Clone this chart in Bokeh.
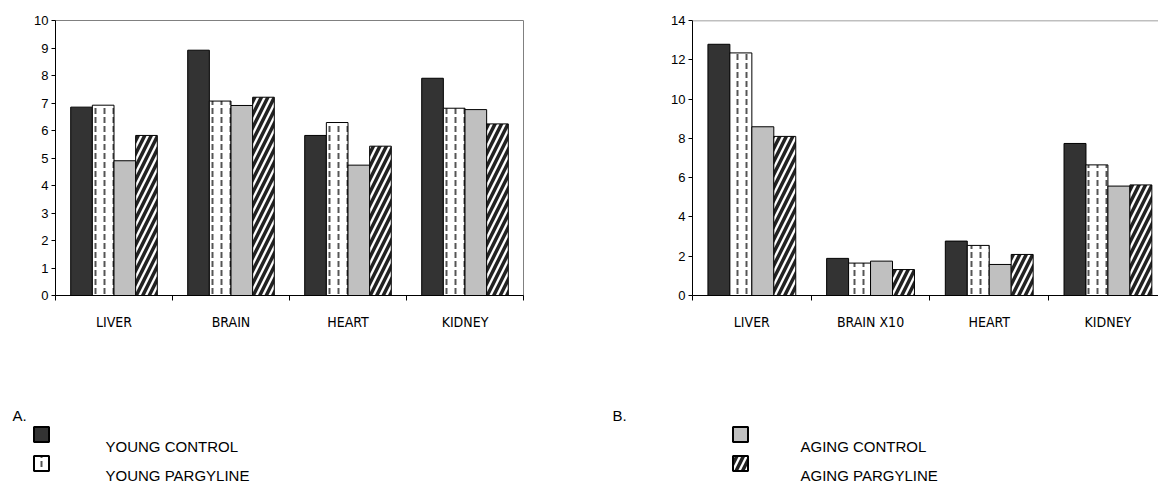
from bokeh.plotting import figure
from bokeh.models import Range1d, FixedTicker, Span, ColumnDataSource
from bokeh.layouts import column, row
from bokeh.embed import file_html
from bokeh.resources import INLINE
from bokeh.core.properties import value
import numpy as np

# ---------------- data ----------------
cats_a = ["LIVER", "BRAIN", "HEART", "KIDNEY"]
cats_b = ["LIVER", "BRAIN X10", "HEART", "KIDNEY"]
series = ["YOUNG CONTROL", "YOUNG PARGYLINE", "AGING CONTROL", "AGING PARGYLINE"]

a_young_control = [6.85, 8.92, 5.82, 7.90]
a_young_pargyline = [6.92, 7.07, 6.29, 6.81]
a_aging_control = [4.90, 6.91, 4.74, 6.76]
a_aging_pargyline = [5.82, 7.21, 5.43, 6.24]

b_young_control = [12.79, 1.89, 2.77, 7.74]
b_young_pargyline = [12.35, 1.65, 2.55, 6.65]
b_aging_control = [8.59, 1.75, 1.58, 5.57]
b_aging_pargyline = [8.10, 1.32, 2.09, 5.63]

yticks_a = list(range(0, 11, 1))
yticks_b = list(range(0, 15, 2))

legend_a = ["YOUNG CONTROL", "YOUNG PARGYLINE"]
legend_b = ["AGING CONTROL", "AGING PARGYLINE"]

# ---------------- styles ----------------
FONT = "Liberation Sans"
NARROW = "Liberation Sans Narrow, DejaVu Sans Condensed, Liberation Sans"
styles = {
    "YOUNG CONTROL": dict(fill_color="#333333", hatch_pattern=None),
    "YOUNG PARGYLINE": dict(fill_color="white", hatch_pattern="vertical_dash",
                            hatch_color="#555555", hatch_scale=9, hatch_weight=2),
    "AGING CONTROL": dict(fill_color="#c0c0c0", hatch_pattern=None),
    "AGING PARGYLINE": dict(fill_color="white", hatch_pattern="right_diagonal_line",
                            hatch_color="#222222", hatch_scale=13, hatch_weight=3.5),
}

def style_kw(name):
    s = dict(styles[name])
    if s.get("hatch_pattern") is None:
        s.pop("hatch_pattern")
    return s

BAR_W = 0.185
offsets = [-1.5 * BAR_W, -0.5 * BAR_W, 0.5 * BAR_W, 1.5 * BAR_W]


def make_chart(cats, vals, yticks, ymax, xend, width, height, bl, bt, br, outline):
    p = figure(width=width, height=height, output_backend="svg", toolbar_location=None,
               x_range=Range1d(0, xend), y_range=Range1d(0, ymax),
               min_border_left=bl, min_border_top=bt, min_border_right=br,
               min_border_bottom=40)
    p.xgrid.visible = False
    p.ygrid.visible = False
    p.background_fill_color = "white"
    p.border_fill_color = "white"
    if outline:
        p.outline_line_color = "#808080"
        p.outline_line_width = 1
    else:
        p.outline_line_color = None
        p.add_layout(Span(location=ymax, dimension="width", line_color="#808080", line_width=1.5))

    centers = np.arange(len(cats)) + 0.5
    for name, off, v in zip(series, offsets, vals):
        src = ColumnDataSource(dict(x=centers + off, top=v))
        p.vbar(x="x", top="top", bottom=0, width=BAR_W, source=src,
               line_color="black", line_width=1, **style_kw(name))

    xt = FixedTicker(ticks=list(centers), minor_ticks=list(range(len(cats) + 1)))
    p.xaxis.ticker = xt
    p.xaxis.major_label_overrides = {float(c): lab for c, lab in zip(centers, cats)}
    p.xaxis.major_tick_line_color = None
    p.xaxis.minor_tick_line_color = "black"
    p.xaxis.minor_tick_in = 0
    p.xaxis.minor_tick_out = 5
    p.xaxis.axis_line_color = "black"
    p.xaxis.major_label_standoff = 12
    p.xaxis.major_label_text_font = NARROW
    p.xaxis.major_label_text_font_size = "14px"
    p.xaxis.major_label_text_color = "black"

    p.yaxis.ticker = FixedTicker(ticks=yticks)
    p.yaxis.major_tick_in = 0
    p.yaxis.major_tick_out = 4
    p.yaxis.minor_tick_line_color = None
    p.yaxis.axis_line_color = "black"
    p.yaxis.major_tick_line_color = "black"
    p.yaxis.major_label_standoff = 3
    p.yaxis.major_label_text_font = FONT
    p.yaxis.major_label_text_font_size = "13px"
    p.yaxis.major_label_text_color = "black"
    return p


p1 = make_chart(cats_a, [a_young_control, a_young_pargyline, a_aging_control, a_aging_pargyline],
                yticks_a, 10, 4, 642, 335, 55, 20, 119, True)
p2 = make_chart(cats_b, [b_young_control, b_young_pargyline, b_aging_control, b_aging_pargyline],
                yticks_b, 14, 3.926, 516, 335, 50, 18, 0, False)

# ---------------- legend area ----------------
LW, LH = 1158, 155
pl = figure(width=LW, height=LH, output_backend="svg", toolbar_location=None,
            x_range=Range1d(0, LW), y_range=Range1d(LH, 0),
            min_border=0, outline_line_color=None)
pl.axis.visible = False
pl.grid.visible = False

pl.text(x=[12, 612], y=[80, 80], text=["A.", "B."], text_font=value(FONT),
        text_font_size="15px", text_baseline="middle", text_align="left", text_color="black")

for labels, sq_x, tx_x in ((legend_a, 41, 105), (legend_b, 740, 800)):
    for i, name in enumerate(labels):
        sy = 99 + 29 * i
        pl.rect(x=[sq_x], y=[sy], width=15, height=15, width_units="screen", height_units="screen",
                line_color="black", line_width=2, **style_kw(name))
        pl.text(x=[tx_x], y=[sy + 12], text=[name], text_font=value(FONT), text_font_size="15px",
                text_baseline="middle", text_align="left", text_color="black")

layout = column(row(p1, p2), pl)
open("out.html", "w").write(file_html(layout, INLINE))
